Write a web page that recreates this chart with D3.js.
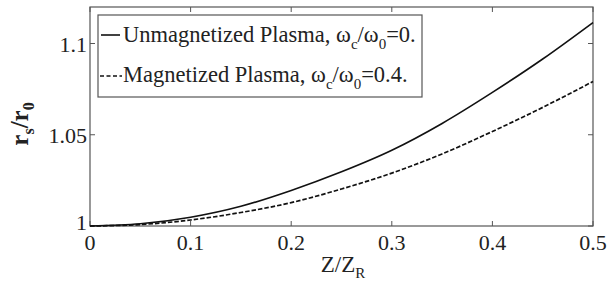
<!DOCTYPE html>
<html>
<head>
<meta charset="utf-8">
<script src="https://cdn.jsdelivr.net/npm/d3@7"></script>
<style>
    body { margin: 0; background: #fff; }
    text { font-family: "Liberation Serif", "Times New Roman", serif; fill: #222; }
</style>
</head>
<body>
<div id="chart"></div>
<script>
var zValues = [0, 0.05, 0.1, 0.15, 0.2, 0.25, 0.3, 0.35, 0.4, 0.45, 0.5];
var unmagnetized = [1, 1.0012, 1.0048, 1.0108, 1.0195, 1.0297, 1.0415, 1.0562, 1.0732, 1.0915, 1.1115];
var magnetized = [1, 1.0008, 1.0033, 1.0074, 1.0128, 1.0203, 1.029, 1.0395, 1.0518, 1.065, 1.0792];
var xTicks = [0, 0.1, 0.2, 0.3, 0.4, 0.5];
var yTicks = [1, 1.05, 1.1];

var width = 610, height = 282;
var plotLeft = 90, plotRight = 593, plotTop = 7, plotBottom = 226;

var svg = d3.select("#chart").append("svg")
    .attr("width", width)
    .attr("height", height);

var x = d3.scaleLinear().domain([0, 0.5]).range([plotLeft, plotRight]);
var y = d3.scaleLinear().domain([1, 1.12]).range([plotBottom, plotTop]);

var axisColor = "#555";
var tickLen = 5;

// box
svg.append("rect")
    .attr("x", plotLeft).attr("y", plotTop)
    .attr("width", plotRight - plotLeft).attr("height", plotBottom - plotTop)
    .attr("fill", "none").attr("stroke", axisColor).attr("stroke-width", 1.2);

// ticks pointing inward, mirrored on top/right
svg.selectAll(".xtick").data(xTicks).enter().append("path")
    .attr("d", function(d){
        var px = x(d);
        return "M" + px + "," + plotBottom + "v" + (-tickLen) + "M" + px + "," + plotTop + "v" + tickLen;
    })
    .attr("stroke", axisColor);

svg.selectAll(".ytick").data(yTicks).enter().append("path")
    .attr("d", function(d){
        var py = y(d);
        return "M" + plotLeft + "," + py + "h" + tickLen + "M" + plotRight + "," + py + "h" + (-tickLen);
    })
    .attr("stroke", axisColor);

svg.selectAll(".xlab").data(xTicks).enter().append("text")
    .attr("x", function(d){ return x(d); })
    .attr("y", 250)
    .attr("text-anchor", "middle")
    .attr("font-size", 22)
    .text(function(d){ return d === 0 ? "0" : d3.format(".1f")(d); });

svg.selectAll(".ylab").data(yTicks).enter().append("text")
    .attr("x", 87)
    .attr("y", function(d){ return d === 1 ? y(d) - 4 : y(d) + 1; })
    .attr("text-anchor", "end")
    .attr("dominant-baseline", "central")
    .attr("font-size", 22)
    .text(function(d){ return d === 1 ? "1" : String(d); });

// curves
var line = d3.line()
    .x(function(d, i){ return x(zValues[i]); })
    .y(function(d){ return y(d); })
    .curve(d3.curveMonotoneX);

svg.append("path")
    .datum(unmagnetized)
    .attr("d", line)
    .attr("fill", "none")
    .attr("stroke", "#111")
    .attr("stroke-width", 1.6);

svg.append("path")
    .datum(magnetized)
    .attr("d", line)
    .attr("fill", "none")
    .attr("stroke", "#111")
    .attr("stroke-width", 1.7)
    .attr("stroke-dasharray", "4.5,2");

// axis labels
var xl = svg.append("text")
    .attr("x", 343).attr("y", 272)
    .attr("text-anchor", "middle")
    .attr("font-size", 23);
xl.append("tspan").text("Z/Z");
xl.append("tspan").attr("font-size", 15).attr("dy", 6).text("R");

var yl = svg.append("text")
    .attr("transform", "translate(28,124) rotate(-90)")
    .attr("text-anchor", "middle")
    .attr("font-size", 25)
    .attr("font-weight", "bold");
yl.append("tspan").text("r");
yl.append("tspan").attr("font-size", 16).attr("dy", 6).text("s");
yl.append("tspan").attr("dy", -6).text("/r");
yl.append("tspan").attr("font-size", 16).attr("dy", 6).text("0");

// legend
var legend = svg.append("g");
legend.append("rect")
    .attr("x", 98).attr("y", 15)
    .attr("width", 324).attr("height", 82)
    .attr("fill", "#fff").attr("stroke", axisColor).attr("stroke-width", 1.2);

legend.append("line")
    .attr("x1", 101).attr("x2", 120).attr("y1", 35).attr("y2", 35)
    .attr("stroke", "#111").attr("stroke-width", 1.6);
legend.append("line")
    .attr("x1", 100).attr("x2", 122).attr("y1", 76).attr("y2", 76)
    .attr("stroke", "#111").attr("stroke-width", 1.6)
    .attr("stroke-dasharray", "4,2.5");

var entries = [
    {y: 42, name: "Unmagnetized Plasma, ", val: "=0."},
    {y: 82, name: "Magnetized Plasma, ", val: "=0.4."}
];
entries.forEach(function(e){
    var t = legend.append("text")
        .attr("x", 123).attr("y", e.y)
        .attr("font-size", 22.5);
    t.append("tspan").text(e.name + "\u03c9");
    t.append("tspan").attr("font-size", 15).attr("dy", 7).text("c");
    t.append("tspan").attr("dy", -7).text("/\u03c9");
    t.append("tspan").attr("font-size", 15).attr("dy", 7).text("0");
    t.append("tspan").attr("dy", -7).text(e.val);
});
</script>
</body>
</html>
